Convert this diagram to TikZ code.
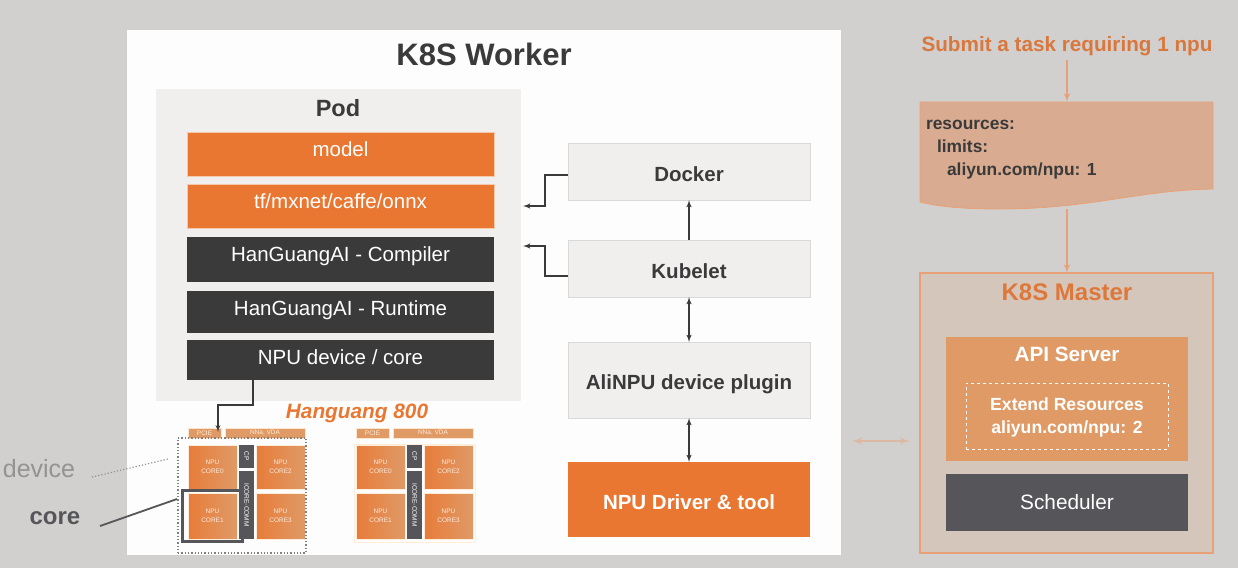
\documentclass[tikz,border=0pt]{standalone}
\usepackage{fontspec}
\setmainfont{Liberation Sans}
\usetikzlibrary{arrows}

\definecolor{bggray}{HTML}{D1D0CE}
\definecolor{workerwhite}{HTML}{FDFDFD}
\definecolor{podgray}{HTML}{F0EFEE}
\definecolor{aliorange}{HTML}{E97732}
\definecolor{softorange}{HTML}{DF9A66}
\definecolor{lineorange}{HTML}{E8A177}
\definecolor{darkbox}{HTML}{3A3A3A}
\definecolor{slatebox}{HTML}{56565A}
\definecolor{yamlfill}{HTML}{D9AB91}
\definecolor{masterfill}{HTML}{D5C6BB}

\newcommand{\fsize}[1]{\fontsize{#1}{#1}\selectfont}

\begin{document}
\begin{tikzpicture}[x=1pt,y=-1pt,>=latex',inner sep=0pt,outer sep=0pt]
	\tikzstyle{layer}=[minimum width=307pt, text=white, font=\fsize{20.5}, text height=15pt, text depth=4pt]
	\tikzstyle{orangelayer}=[layer, fill=aliorange, draw=aliorange!40!white, line width=.6pt]
	\tikzstyle{darklayer}=[layer, fill=darkbox]
	\tikzstyle{service}=[draw=black!15, fill=podgray, minimum width=242pt, text=darkbox, font=\bfseries\fsize{20.5}, text height=19pt, text depth=0pt]
	\tikzstyle{flow}=[darkbox, line width=1.5pt]
	\tikzstyle{taskline}=[lineorange, line width=2pt]
	\tikzstyle{chipbar}=[fill=softorange, draw=orange!20!white, line width=.5pt, minimum height=10pt, text=white!85!orange, font=\fsize{6.5}]
	\tikzstyle{chipcore}=[left color=aliorange!85!softorange, right color=softorange, draw=orange!15!white, line width=.5pt, minimum width=49pt, align=center, text=white!80!softorange, font=\fsize{6.5}]
	\tikzstyle{chipbus}=[fill=slatebox, minimum width=15pt, text=white, font=\fsize{6.5}]

	\useasboundingbox (0,0) rectangle (1238,568);
	\fill[bggray] (0,0) rectangle (1238,568);

	% worker side
	\node [fill=workerwhite, minimum width=714pt, minimum height=525pt] (worker) at (484,292.5) {};
	\node [font=\bfseries\fsize{31}, text=darkbox] (workertitle) at (484,54) {K8S Worker};
	\node [fill=podgray, minimum width=365pt, minimum height=312pt] (pod) at (338.5,245) {};
	\node [font=\bfseries\fsize{23.5}, text=darkbox] (podtitle) at (338,108) {Pod};

	\node [orangelayer, minimum height=44pt] (model) at (340.5,154) {\raisebox{3pt}{model}};
	\node [orangelayer, minimum height=44pt] (framework) [below of=model, node distance=52pt] {\raisebox{3pt}{tf/mxnet/caffe/onnx}};
	\node [darklayer, minimum height=45pt] (compiler) [below of=framework, node distance=53.5pt] {\raisebox{4pt}{HanGuangAI - Compiler}};
	\node [darklayer, minimum height=42pt] (runtime) [below of=compiler, node distance=52.5pt] {\raisebox{2pt}{HanGuangAI - Runtime}};
	\node [darklayer, minimum height=40pt] (npudev) [below of=runtime, node distance=48pt] {\raisebox{1pt}{NPU device / core}};

	\node [service, minimum height=57pt] (docker) at (689,171.5) {Docker};
	\node [service, minimum height=57pt] (kubelet) [below of=docker, node distance=97pt] {Kubelet};
	\node [service, minimum height=76pt] (plugin) [below of=kubelet, node distance=111.5pt] {AliNPU device plugin};
	\node [fill=aliorange, minimum width=242pt, minimum height=75pt, text=white, font=\bfseries\fsize{20.5}, text height=19pt, text depth=0pt] (driver) [below of=plugin, node distance=119.5pt] {NPU Driver \& tool};

	\coordinate (podtop) at (523,206);
	\coordinate (podlow) at (523,246);
	\draw[->, flow] ([yshift=-3.5pt]docker.west) -- ++(-23,0) |- (podtop);
	\draw[->, flow] ([yshift=-7.5pt]kubelet.west) -- ++(-23,0) |- (podlow);
	\draw[->, flow] (kubelet) -- (docker);
	\draw[<->, flow] (kubelet) -- (plugin);
	\draw[<->, flow] (plugin) -- (driver);

	% chips
	\node [font=\bfseries\itshape\fsize{20.8}, text=aliorange] (chipname) at (357,413) {Hanguang 800};
	\foreach \chipx/\chipid in {0/a,168/b} {
		\node [chipbar, minimum width=33pt] (pcie\chipid) at (204.5+\chipx,433) {PCIE};
		\node [chipbar, minimum width=80pt] (nna\chipid) at (265+\chipx,433) {NNa, VDA};
		\node [chipcore, minimum height=44pt] (core\chipid0) at (212.5+\chipx,467) {NPU\\[2pt]CORE0};
		\node [chipcore, minimum height=44pt] (core\chipid2) at (280.5+\chipx,467) {NPU\\[2pt]CORE2};
		\node [chipcore, minimum height=46pt] (core\chipid1) at (212.5+\chipx,516) {NPU\\[2pt]CORE1};
		\node [chipcore, minimum height=46pt] (core\chipid3) at (280.5+\chipx,516) {NPU\\[2pt]CORE3};
		\node [chipbus, minimum height=23pt] (cp\chipid) at (246.5+\chipx,456.5) {\rotatebox{-90}{CP}};
		\node [chipbus, minimum height=68pt] (comm\chipid) at (246.5+\chipx,505) {\rotatebox{-90}{ICORE-COMM}};
	}
	\draw[orange!15!white, line width=1pt] (354,444) rectangle (475,542);
	\node [draw=gray, dotted, line width=1.3pt, minimum width=128pt, minimum height=115pt] (devicebox) at (242,495.5) {};
	\node [draw=slatebox, line width=2.5pt, minimum width=60pt, minimum height=51pt] (corebox) at (212.5,516) {};
	\draw[->, flow, line width=1.3pt] ([xshift=-87.5pt]npudev.south) -- ++(0,25) -| ([xshift=13.5pt,yshift=-4pt]pciea.north);

	\node [font=\fsize{25}, text=gray!85] (devicelabel) at (39,469) {device};
	\node [font=\bfseries\fsize{24}, text=slatebox] (corelabel) at (55,518) {core};
	\coordinate (devicetip) at (168,459);
	\coordinate (coretip) at (177,499);
	\draw[gray!85, line width=1.2pt, dotted] (92,477) -- (devicetip);
	\draw[slatebox, line width=1.8pt] (100,526) -- (coretip);

	% master side
	\node [font=\bfseries\fsize{20.7}, text=aliorange!85!gray] (submit) at (1067,46.5) {Submit a task requiring 1 npu};
	\coordinate (yamltop) at (1067,102);
	\coordinate (yamlbottom) at (1067,209);
	\filldraw[fill=yamlfill, draw=lineorange, line width=.8pt] (920,102) -- (1213,102) -- (1213,189)
		.. controls (1140,190) and (1090,209) .. (1000,209)
		.. controls (965,209) and (940,207) .. (920,202) -- cycle;
	\node [anchor=north west, align=left, font=\bfseries\fsize{17.4}, text=darkbox] (yamltext) at (926,120.5) {resources:\\[5.5pt]\hspace{11pt}limits:\\[5.5pt]\hspace{21pt}aliyun.com/npu: 1};

	\node [draw=lineorange, fill=masterfill, line width=1.2pt, minimum width=293pt, minimum height=280pt] (master) at (1066.5,413) {};
	\node [font=\bfseries\fsize{24}, text=aliorange!90!gray] (mastertitle) at (1067,292) {K8S Master};
	\node [fill=softorange, minimum width=242pt, minimum height=124pt] (apiserver) at (1067,399) {};
	\node [font=\bfseries\fsize{20.7}, text=white] (apititle) at (1067,354) {API Server};
	\node [draw=white, dashed, line width=.8pt, minimum width=202pt, minimum height=66pt] (extend) at (1067,416) {};
	\node [align=center, text=white, font=\bfseries\fsize{17.6}] (extendtext) at (1067,417.5) {Extend Resources\\[6pt]aliyun.com/npu: 2};
	\node [fill=slatebox, minimum width=242pt, minimum height=57pt, text=white, font=\fsize{20.8}] (scheduler) at (1067,502.5) {Scheduler};

	\draw[->, taskline] (submit.south |- 0,60) -- (yamltop);
	\draw[->, taskline] (yamlbottom) -- (master.north -| yamlbottom);

	\coordinate (faintleft) at (852,441);
	\coordinate (faintright) at (910,441);
	\draw[<->, line width=2.5pt, draw=lineorange!50!bggray] (faintleft) -- (faintright);
\end{tikzpicture}
\end{document}
